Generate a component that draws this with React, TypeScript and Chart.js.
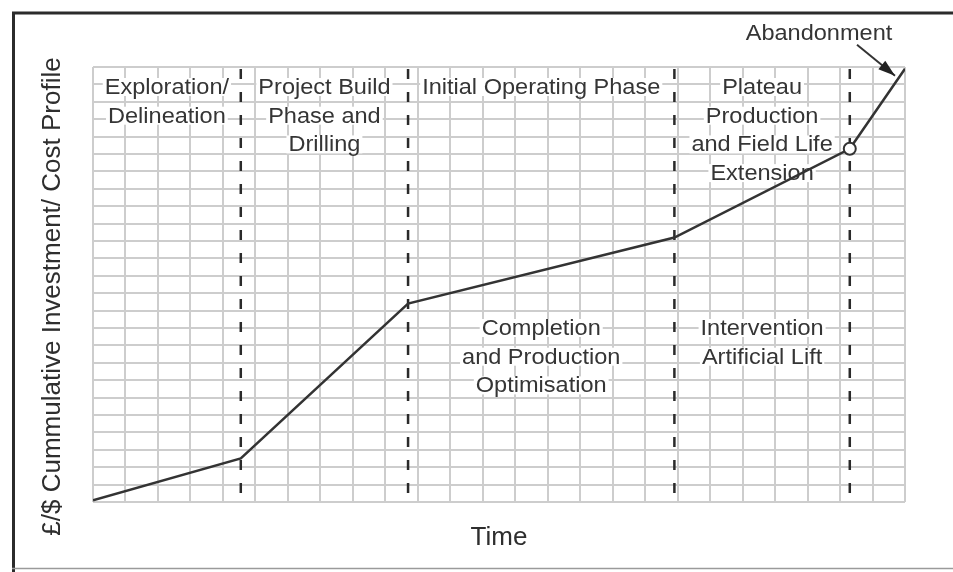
import React, { useEffect, useRef } from "react";
import { Chart, registerables } from "chart.js";

Chart.register(...registerables);

// ---- data ----
const timeValues = [0, 4.55, 9.7, 17.9, 23.3, 25];
const costValues = [0.1, 2.5, 11.4, 15.2, 20.3, 24.9];
const markerFlags = [false, false, false, false, true, false];
const phaseEdges = [0, 4.55, 9.7, 17.9, 23.3];
const phaseBoundaries = [4.55, 9.7, 17.9, 23.3];
const upperLabels = [
  ["Exploration/", "Delineation"],
  ["Project Build", "Phase and", "Drilling"],
  ["Initial Operating Phase"],
  ["Plateau", "Production", "and Field Life", "Extension"],
];
const lowerLabels = [
  [],
  [],
  ["Completion", "and Production", "Optimisation"],
  ["Intervention", "Artificial Lift"],
];
const abandonmentLabel = "Abandonment";
const yTitle = "£/$ Cummulative Investment/ Cost Profile";
const xTitle = "Time";
const axisMin = 0;
const axisMax = 25;
const gridStep = 1;

const FONT = '"Liberation Sans", Arial, sans-serif';
const TEXT = "#353535";
const STRETCH = 1.07;

const stretchedText = (ctx: any, t: string, x: number, y: number) => {
  ctx.save();
  ctx.translate(x, y);
  ctx.scale(STRETCH, 1);
  ctx.fillText(t, 0, 0);
  ctx.restore();
};

const overlayPlugin = {
  id: "overlay",
  beforeDatasetsDraw(chart: any) {
    const { ctx, chartArea, scales } = chart;
    const xs = scales.x;
    ctx.save();
    ctx.font = `22px ${FONT}`;
    ctx.textAlign = "center";
    ctx.textBaseline = "middle";
    const lh = 28.7;
    const drawBlock = (lines: string[], cx: number, y0: number) => {
      lines.forEach((t, j) => {
        const y = y0 + j * lh;
        const w = ctx.measureText(t).width * STRETCH;
        ctx.fillStyle = "#ffffff";
        ctx.fillRect(cx - w / 2 - 2, y - 9, w + 4, 18);
        ctx.fillStyle = TEXT;
        stretchedText(ctx, t, cx, y + 1);
      });
    };
    for (let i = 0; i < upperLabels.length; i++) {
      const a = xs.getPixelForValue(phaseEdges[i]);
      const b = xs.getPixelForValue(i + 1 < phaseEdges.length ? phaseEdges[i + 1] : axisMax);
      const cx = (a + b) / 2;
      drawBlock(upperLabels[i], cx, chartArea.top + 20);
      drawBlock(lowerLabels[i], cx, chartArea.top + 261);
    }
    // dashed phase boundaries
    ctx.strokeStyle = "#2a2a2a";
    ctx.lineWidth = 2.5;
    ctx.setLineDash([10, 13]);
    phaseBoundaries.forEach((v) => {
      const x = xs.getPixelForValue(v);
      ctx.beginPath();
      ctx.moveTo(x, chartArea.top + 2);
      ctx.lineTo(x, chartArea.bottom);
      ctx.stroke();
    });
    ctx.restore();
  },
  afterDraw(chart: any) {
    const { ctx, chartArea, width, height } = chart;
    const meta = chart.getDatasetMeta(0);
    const last = meta.data[meta.data.length - 1];
    ctx.save();
    // abandonment arrow
    const sx = last.x - 48, sy = last.y - 24;
    const tx = last.x - 10, ty = last.y + 7;
    ctx.strokeStyle = "#333";
    ctx.fillStyle = "#222";
    ctx.lineWidth = 2;
    ctx.beginPath();
    ctx.moveTo(sx, sy);
    ctx.lineTo(tx, ty);
    ctx.stroke();
    const ang = Math.atan2(ty - sy, tx - sx);
    const L = 17, W = 5.5;
    ctx.beginPath();
    ctx.moveTo(tx, ty);
    ctx.lineTo(tx - L * Math.cos(ang) + W * Math.sin(ang), ty - L * Math.sin(ang) - W * Math.cos(ang));
    ctx.lineTo(tx - L * Math.cos(ang) - W * Math.sin(ang), ty - L * Math.sin(ang) + W * Math.cos(ang));
    ctx.closePath();
    ctx.fill();
    ctx.font = `22px ${FONT}`;
    ctx.textAlign = "center";
    ctx.textBaseline = "middle";
    ctx.fillStyle = TEXT;
    stretchedText(ctx, abandonmentLabel, last.x - 86, last.y - 35);

    // axis titles
    ctx.font = `26px ${FONT}`;
    ctx.fillStyle = "#2e2e2e";
    ctx.fillText(xTitle, (chartArea.left + chartArea.right) / 2, chartArea.bottom + 36);
    ctx.save();
    ctx.translate(53, (chartArea.top + chartArea.bottom) / 2 + 12);
    ctx.rotate(-Math.PI / 2);
    ctx.fillText(yTitle, 0, 0);
    ctx.restore();

    // frame
    ctx.strokeStyle = "#2b2b2b";
    ctx.lineWidth = 3;
    ctx.beginPath();
    ctx.moveTo(13.5, height);
    ctx.lineTo(13.5, 13);
    ctx.lineTo(width, 13);
    ctx.stroke();
    ctx.strokeStyle = "#9a9a9a";
    ctx.lineWidth = 1.5;
    ctx.beginPath();
    ctx.moveTo(12, 568.5);
    ctx.lineTo(width, 568.5);
    ctx.stroke();
    ctx.restore();
  },
};

export default function App() {
  const ref = useRef<HTMLCanvasElement | null>(null);
  useEffect(() => {
    if (!ref.current) return;
    const points = timeValues.map((x, i) => ({ x, y: costValues[i] }));
    const gridOpts = { color: "#cdcdcd", lineWidth: 2, drawTicks: false };
    const chart = new Chart(ref.current, {
      type: "line",
      data: {
        datasets: [
          {
            data: points,
            borderColor: "#333333",
            borderWidth: 2.5,
            tension: 0,
            pointRadius: markerFlags.map((m) => (m ? 6 : 0)),
            pointBackgroundColor: "#ffffff",
            pointBorderColor: "#333333",
            pointBorderWidth: 2,
          },
        ],
      },
      options: {
        animation: false,
        responsive: false,
        devicePixelRatio: 1,
        layout: { padding: { left: 93, top: 67, right: 48, bottom: 70 } },
        plugins: { legend: { display: false }, tooltip: { enabled: false } },
        scales: {
          x: {
            type: "linear",
            min: axisMin,
            max: axisMax,
            ticks: { display: false, stepSize: gridStep, maxTicksLimit: 100 },
            grid: gridOpts,
            border: { display: false },
          },
          y: {
            type: "linear",
            min: axisMin,
            max: axisMax,
            ticks: { display: false, stepSize: gridStep, maxTicksLimit: 100 },
            grid: gridOpts,
            border: { display: false },
          },
        },
      },
      plugins: [overlayPlugin],
    });
    return () => chart.destroy();
  }, []);
  return (
    <div style={{ position: "absolute", left: 0, top: 0, width: 953, height: 572, background: "#fff" }}>
      <canvas ref={ref} width={953} height={572} style={{ width: 953, height: 572, display: "block" }} />
    </div>
  );
}
